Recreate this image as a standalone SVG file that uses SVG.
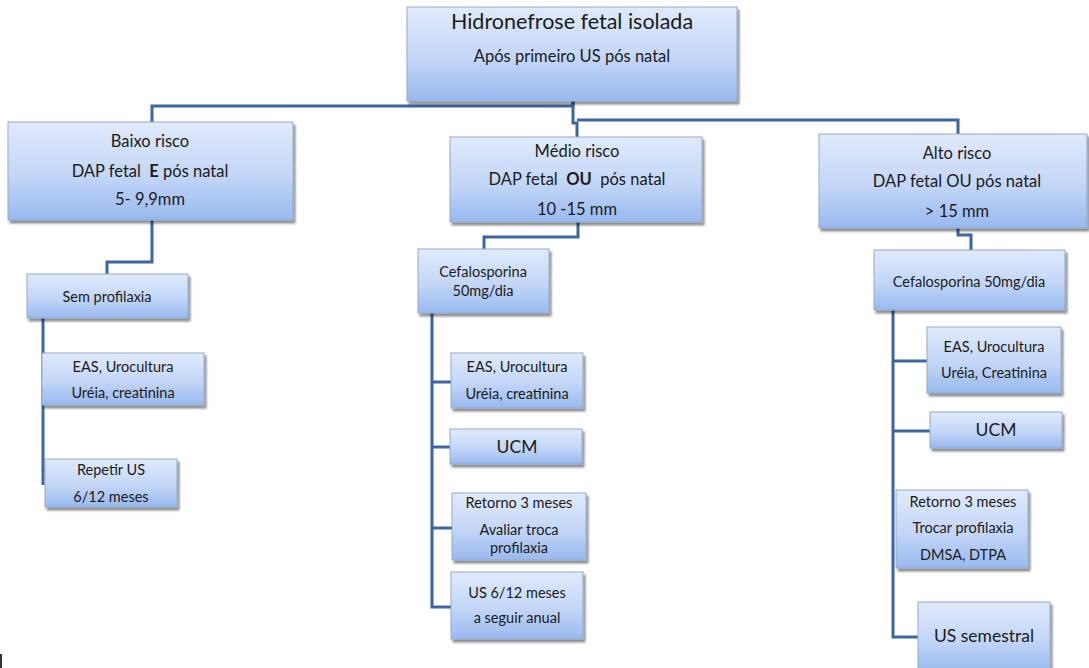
<svg xmlns="http://www.w3.org/2000/svg" width="1089" height="668" viewBox="0 0 1089 668">
  <defs>
    <linearGradient id="boxFill" x1="0" y1="0" x2="0" y2="1">
      <stop offset="0" stop-color="#e0eafb"/>
      <stop offset="0.55" stop-color="#c3d6f7"/>
      <stop offset="1" stop-color="#98b9ef"/>
    </linearGradient>
    <filter id="shadow" x="-10%" y="-10%" width="125%" height="130%">
      <feGaussianBlur in="SourceAlpha" stdDeviation="1.2"/>
      <feOffset dx="2" dy="2.5" result="b"/>
      <feComponentTransfer><feFuncA type="linear" slope="0.45"/></feComponentTransfer>
      <feMerge><feMergeNode/><feMergeNode in="SourceGraphic"/></feMerge>
    </filter>
  </defs>
  <style>
    .box { fill: url(#boxFill); stroke: #93a9cc; stroke-width: 1; filter: url(#shadow); }
    .lnk { fill: none; stroke: #3b66a1; stroke-width: 3; stroke-linejoin: miter; }
    text { font-family: Lato, "Open Sans", "Liberation Sans", sans-serif; fill: #1b1b1b; text-anchor: middle; }
    .t1 { font-size: 21.5px; }
    .t2 { font-size: 16.5px; }
    .t3 { font-size: 14.5px; }
    .t4 { font-size: 17.5px; }
    .b { font-weight: bold; }
  </style>

  <!-- connectors -->
  <g id="connectors">
    <path class="lnk" d="M573 100 V106 H152 V122"/>
    <path class="lnk" d="M573 100 V123 H577 V138"/>
    <path class="lnk" d="M577 120 H958 V134"/>
    <path class="lnk" d="M152 220 V262 H107 V274"/>
    <path class="lnk" d="M43 318 V485"/>
    <path class="lnk" d="M578 222 V237 H484 V249"/>
    <path class="lnk" d="M432 313 V607 H451 M432 382 H451 M432 447 H450 M432 528 H452"/>
    <path class="lnk" d="M958 228 V235 H971 V250"/>
    <path class="lnk" d="M893 310 V637 H918 M893 361 H927 M893 431 H930"/>
  </g>

  <g id="root">
    <rect class="box" x="407" y="7" width="330" height="94"/>
    <text class="t1" x="572" y="29">Hidronefrose fetal isolada</text>
    <text class="t2" x="572" y="62">Após primeiro US pós natal</text>
  </g>

  <g id="baixo">
    <rect class="box" x="8" y="122" width="285" height="98"/>
    <text class="t2" x="150" y="147">Baixo risco</text>
    <text class="t2" x="150" y="177">DAP fetal&#160; <tspan class="b">E</tspan> pós natal</text>
    <text class="t2" x="150" y="205">5- 9,9mm</text>
  </g>

  <g id="medio">
    <rect class="box" x="450" y="137" width="252" height="85"/>
    <text class="t2" x="577" y="157">Médio risco</text>
    <text class="t2" x="577" y="185">DAP fetal&#160; <tspan class="b">OU</tspan>&#160; pós natal</text>
    <text class="t2" x="577" y="215">10 -15 mm</text>
  </g>

  <g id="alto">
    <rect class="box" x="819" y="134" width="268" height="94"/>
    <text class="t2" x="957" y="159">Alto risco</text>
    <text class="t2" x="957" y="187">DAP fetal OU pós natal</text>
    <text class="t2" x="957" y="217">&gt; 15 mm</text>
  </g>

  <g id="sem-profilaxia">
    <rect class="box" x="27" y="274" width="161" height="44"/>
    <text class="t3" x="107" y="302">Sem profilaxia</text>
  </g>

  <g id="baixo-exames">
    <rect class="box" x="42" y="353" width="162" height="52"/>
    <text class="t3" x="123" y="372">EAS, Urocultura</text>
    <text class="t3" x="123" y="398">Uréia, creatinina</text>
  </g>

  <g id="baixo-us">
    <rect class="box" x="45" y="459" width="132" height="48"/>
    <text class="t3" x="111" y="475">Repetir US</text>
    <text class="t3" x="111" y="502">6/12 meses</text>
  </g>

  <g id="medio-cefalosporina">
    <rect class="box" x="418" y="249" width="131" height="64"/>
    <text class="t3" x="483" y="277">Cefalosporina</text>
    <text class="t3" x="483" y="296">50mg/dia</text>
  </g>

  <g id="medio-exames">
    <rect class="box" x="451" y="353" width="132" height="55"/>
    <text class="t3" x="517" y="372">EAS, Urocultura</text>
    <text class="t3" x="517" y="399">Uréia, creatinina</text>
  </g>

  <g id="medio-ucm">
    <rect class="box" x="450" y="429" width="132" height="35"/>
    <text class="t4" x="517" y="453">UCM</text>
  </g>

  <g id="medio-retorno">
    <rect class="box" x="452" y="493" width="134" height="67"/>
    <text class="t3" x="519" y="508">Retorno 3 meses</text>
    <text class="t3" x="519" y="535">Avaliar troca</text>
    <text class="t3" x="519" y="553">profilaxia</text>
  </g>

  <g id="medio-us">
    <rect class="box" x="451" y="572" width="132" height="67"/>
    <text class="t3" x="517" y="598">US 6/12 meses</text>
    <text class="t3" x="517" y="623">a seguir anual</text>
  </g>

  <g id="alto-cefalosporina">
    <rect class="box" x="874" y="250" width="191" height="60"/>
    <text class="t3" x="969" y="287">Cefalosporina 50mg/dia</text>
  </g>

  <g id="alto-exames">
    <rect class="box" x="927" y="327" width="134" height="66"/>
    <text class="t3" x="994" y="352">EAS, Urocultura</text>
    <text class="t3" x="994" y="378">Uréia, Creatinina</text>
  </g>

  <g id="alto-ucm">
    <rect class="box" x="930" y="412" width="132" height="36"/>
    <text class="t4" x="996" y="436">UCM</text>
  </g>

  <g id="alto-retorno">
    <rect class="box" x="896" y="490" width="132" height="78"/>
    <text class="t3" x="963" y="507">Retorno 3 meses</text>
    <text class="t3" x="963" y="533">Trocar profilaxia</text>
    <text class="t3" x="963" y="560">DMSA, DTPA</text>
  </g>

  <g id="alto-us">
    <rect class="box" x="918" y="602" width="132" height="70"/>
    <text class="t4" x="984" y="642">US semestral</text>
  </g>

  <!-- stray edge mark, lower left -->
  <rect x="0" y="654" width="2" height="14" fill="#333"/>
</svg>
